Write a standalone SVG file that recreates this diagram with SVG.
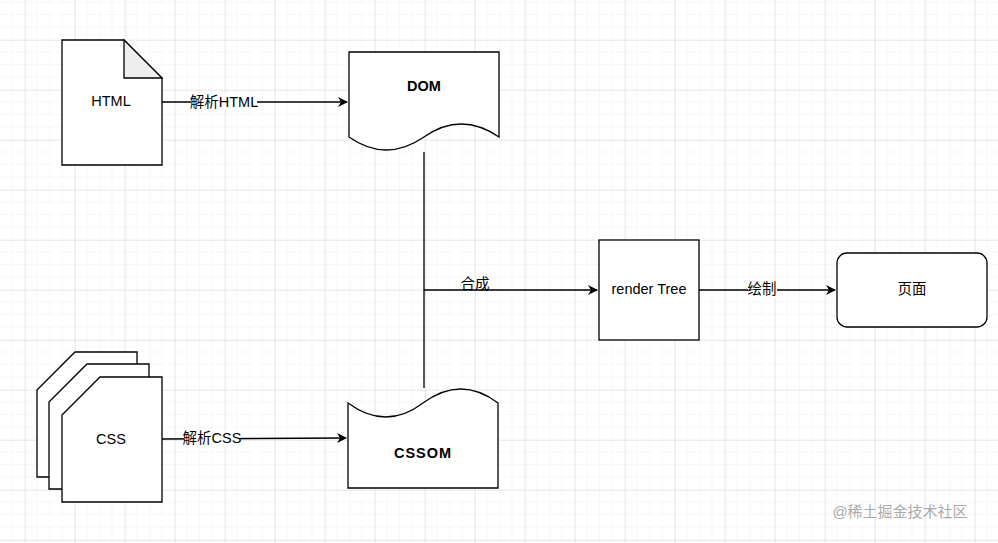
<svg xmlns="http://www.w3.org/2000/svg" width="998" height="543" viewBox="0 0 998 543">
<defs>
<pattern id="minor" width="12.5" height="12.5" patternUnits="userSpaceOnUse" x="0" y="2.5"><path d="M12.5 0V12.5M0 12.5H12.5" fill="none" stroke="#efefef" stroke-width="1"/></pattern>
<pattern id="major" width="50" height="50" patternUnits="userSpaceOnUse" x="25" y="40"><path d="M0 0V50M0 0H50" fill="none" stroke="#dcdcdc" stroke-width="1"/></pattern>
<marker id="arr" markerWidth="10" markerHeight="10" refX="9" refY="5" orient="auto" markerUnits="userSpaceOnUse"><path d="M0 0L10 5L0 10L3 5Z" fill="#000"/></marker>
</defs>
<style>
.s{fill:#fff;stroke:#000;stroke-width:1.3}
.t{font-family:"Liberation Sans","Noto Sans CJK SC",sans-serif;font-size:14.5px;text-anchor:middle;dominant-baseline:middle;fill:#000}
.b{font-weight:bold}
.c{fill:none;stroke:#000;stroke-width:1.3}
.lb{fill:#fff}
</style>
<rect width="998" height="543" fill="#fff"/>
<rect width="998" height="543" fill="url(#minor)"/>
<rect width="998" height="543" fill="url(#major)"/>
<g id="html"><path class="s" d="M62 40H124L162 78V165H62Z"/><path d="M124 40V78H162Z" fill="#eee" stroke="#000" stroke-width="1.3"/><text class="t" x="111" y="102">HTML</text></g>
<g id="dom"><path class="s" d="M349 52H499V137Q461 111 424 137Q386 163 349 137Z"/><text class="t b" x="424" y="87">DOM</text></g>
<g id="css">
<path class="s" d="M37 390L75 352H137V477H37Z"/>
<path class="s" d="M49 402L87 364H149V489H49Z"/>
<path class="s" d="M62 415L100 377H162V502H62Z"/>
<text class="t" x="111" y="440">CSS</text></g>
<g id="cssom"><path class="s" d="M348 403Q386 431 423 403Q461 375 498 403V488H348Z"/><text class="t b" x="423" y="454" style="letter-spacing:1px">CSSOM</text></g>
<g id="rendertree"><rect class="s" x="599" y="240" width="100" height="100"/><text class="t" x="649" y="290">render Tree</text></g>
<g id="page"><rect class="s" x="837" y="253" width="150" height="74" rx="10"/><text class="t" x="912" y="290">页面</text></g>
<g id="connectors">
<path class="c" d="M162 102H347" marker-end="url(#arr)"/>
<rect class="lb" x="191" y="94" width="66" height="16"/><text class="t" x="224" y="103">解析HTML</text>
<path class="c" d="M162 439L346 438" marker-end="url(#arr)"/>
<rect class="lb" x="184" y="431" width="56" height="16"/><text class="t" x="212" y="439">解析CSS</text>
<path class="c" d="M424 152V388"/>
<path class="c" d="M424 290H597" marker-end="url(#arr)"/>
<text class="t" x="475" y="285">合成</text>
<path class="c" d="M699 290H835" marker-end="url(#arr)"/>
<rect class="lb" x="748" y="282" width="29" height="16"/><text class="t" x="762" y="290">绘制</text>
</g>
<text x="900" y="517" style="font-family:'Liberation Sans','Noto Sans CJK SC',sans-serif;font-size:15px;text-anchor:middle;fill:#aaa">@稀土掘金技术社区</text>
</svg>
